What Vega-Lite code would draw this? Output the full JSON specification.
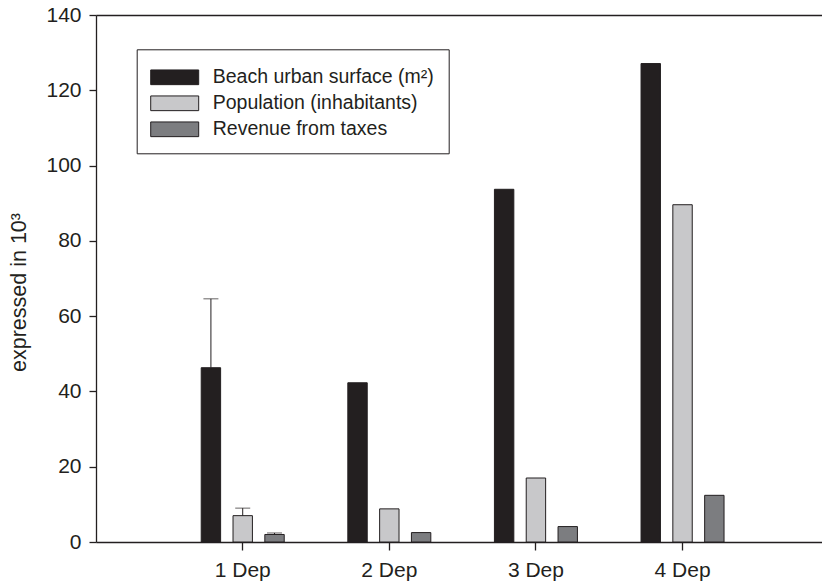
{
  "$schema": "https://vega.github.io/schema/vega-lite/v6.json",
  "width": 726,
  "height": 527,
  "autosize": {"type": "none"},
  "padding": {"left": 96, "top": 15, "right": 0, "bottom": 39},
  "background": "white",
  "config": {
    "view": {"stroke": null},
    "font": "Liberation Sans",
    "axis": {
      "domainColor": "#231f20",
      "domainWidth": 1.3,
      "tickColor": "#231f20",
      "tickWidth": 1.3,
      "labelColor": "#231f20",
      "titleColor": "#231f20",
      "labelFont": "Liberation Sans",
      "titleFont": "Liberation Sans",
      "grid": false
    }
  },
  "datasets": {
    "bars": [
      {"dep": "1 Dep", "series": "Beach urban surface (m²)", "value": 46.3},
      {"dep": "1 Dep", "series": "Population (inhabitants)", "value": 7.0},
      {"dep": "1 Dep", "series": "Revenue from taxes", "value": 2.0},
      {"dep": "2 Dep", "series": "Beach urban surface (m²)", "value": 42.3},
      {"dep": "2 Dep", "series": "Population (inhabitants)", "value": 8.8},
      {"dep": "2 Dep", "series": "Revenue from taxes", "value": 2.5},
      {"dep": "3 Dep", "series": "Beach urban surface (m²)", "value": 93.7},
      {"dep": "3 Dep", "series": "Population (inhabitants)", "value": 17.0},
      {"dep": "3 Dep", "series": "Revenue from taxes", "value": 4.1},
      {"dep": "4 Dep", "series": "Beach urban surface (m²)", "value": 127.1},
      {"dep": "4 Dep", "series": "Population (inhabitants)", "value": 89.6},
      {"dep": "4 Dep", "series": "Revenue from taxes", "value": 12.4}
    ],
    "errs": [
      {"dep": "1 Dep", "series": "Beach urban surface (m²)", "value": 46.3, "upper": 64.6},
      {"dep": "1 Dep", "series": "Population (inhabitants)", "value": 7.0, "upper": 9.0},
      {"dep": "1 Dep", "series": "Revenue from taxes", "value": 2.0, "upper": 2.4}
    ]
  },
  "layer": [
    {
      "data": {"name": "bars"},
      "mark": {"type": "bar", "stroke": "#231f20", "strokeWidth": 1},
      "encoding": {
        "x": {
          "field": "dep", "type": "nominal",
          "scale": {"domain": ["1 Dep", "2 Dep", "3 Dep", "4 Dep"], "paddingInner": 0, "paddingOuter": 0.476, "align": 0.526},
          "axis": {"orient": "bottom", "title": null, "labelAngle": 0, "labelFontSize": 21, "tickSize": 8, "labelPadding": 9}
        },
        "xOffset": {
          "field": "series",
          "scale": {"domain": ["Beach urban surface (m²)", "Population (inhabitants)", "Revenue from taxes"], "paddingInner": 0.39, "paddingOuter": 1.18}
        },
        "y": {
          "field": "value", "type": "quantitative",
          "scale": {"domain": [0, 140], "nice": false},
          "axis": {"title": "expressed in 10³", "values": [0, 20, 40, 60, 80, 100, 120, 140], "labelFontSize": 21, "tickSize": 7, "labelPadding": 8, "titleFontSize": 21.5, "titleFontWeight": "normal", "titleAngle": -90, "titleX": -71, "titleY": 277, "titleBaseline": "alphabetic"}
        },
        "color": {
          "field": "series", "type": "nominal",
          "scale": {"domain": ["Beach urban surface (m²)", "Population (inhabitants)", "Revenue from taxes"], "range": ["#231f20", "#c8c8ca", "#7c7d80"]},
          "legend": {
            "orient": "none", "legendX": 40.7, "legendY": 34.3, "title": null,
            "strokeColor": "#231f20", "fillColor": "white", "padding": 14,
            "symbolType": "M-1.811,-0.555H1.811V0.555H-1.811Z", "symbolSize": 702,
            "symbolStrokeColor": "#231f20", "symbolStrokeWidth": 1, "symbolOffset": 10,
            "labelOffset": 24, "labelFontSize": 19.5, "labelColor": "#231f20", "labelFont": "Liberation Sans",
            "rowPadding": 2, "labelLimit": 400
          }
        }
      }
    },
    {
      "data": {"name": "errs"},
      "mark": {"type": "rule", "color": "#231f20", "strokeWidth": 1},
      "encoding": {
        "x": {"field": "dep", "type": "nominal", "scale": {"domain": ["1 Dep", "2 Dep", "3 Dep", "4 Dep"]}, "axis": null},
        "xOffset": {"field": "series", "scale": {"domain": ["Beach urban surface (m²)", "Population (inhabitants)", "Revenue from taxes"]}},
        "y": {"field": "value", "type": "quantitative", "title": "expressed in 10³"},
        "y2": {"field": "upper"}
      }
    },
    {
      "data": {"name": "errs"},
      "mark": {"type": "tick", "orient": "horizontal", "size": 15, "thickness": 1, "color": "#231f20"},
      "encoding": {
        "x": {"field": "dep", "type": "nominal", "scale": {"domain": ["1 Dep", "2 Dep", "3 Dep", "4 Dep"]}, "axis": {"orient": "top", "title": null, "labels": false, "ticks": false, "domain": true}},
        "xOffset": {"field": "series", "scale": {"domain": ["Beach urban surface (m²)", "Population (inhabitants)", "Revenue from taxes"]}},
        "y": {"field": "upper", "type": "quantitative", "title": "expressed in 10³"}
      }
    }
  ],
  "resolve": {"axis": {"x": "independent"}}
}
